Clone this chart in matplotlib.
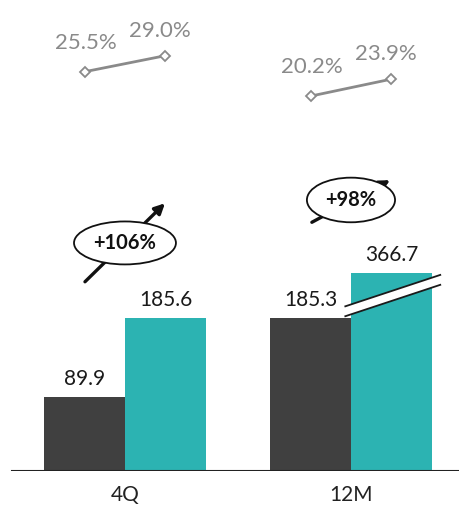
import matplotlib
matplotlib.use('Agg')
import matplotlib.pyplot as plt
from matplotlib.patches import Ellipse, Polygon

# data
categories = ['4Q', '12M']
prev_values = [89.9, 185.3]
curr_values = [185.6, 366.7]
prev_margin = [25.5, 20.2]
curr_margin = [29.0, 23.9]

DARK = '#404040'
TEAL = '#2cb3b2'
GREY = '#8a8a8a'
FONT = 'Lato'

# bars above this get drawn broken
cap = 240
width = 0.358

fig = plt.figure(figsize=(4.59, 5.08), dpi=100)
ax = fig.add_axes([0, 37 / 508, 1, 471 / 508])
ax.set_xlim(-0.553, 1.478)
ax.set_ylim(0, 570)
for s in ax.spines.values():
    s.set_visible(False)
ax.set_yticks([])
ax.set_xticks(range(len(categories)))
ax.set_xticklabels(categories, fontsize=15, family=FONT, color='#222222')
ax.tick_params(axis='x', length=0, pad=10)
ax.axhline(0, xmin=12 / 459, xmax=1, color='#222222', lw=1.5, zorder=5)

for i, cat in enumerate(categories):
    x0 = i - width / 2
    x1 = i + width / 2
    p, c = prev_values[i], curr_values[i]
    ax.bar(x0, p, width=width, color=DARK, zorder=2)
    hc = min(c, cap)
    ax.bar(x1, hc, width=width, color=TEAL, zorder=2)
    ax.text(x0, p + 9, f'{p:.1f}', ha='center', va='bottom', fontsize=15, family=FONT, color='#1a1a1a')
    ax.text(x1, hc + 9, f'{c:.1f}', ha='center', va='bottom', fontsize=15, family=FONT, color='#1a1a1a')

    if c > cap:
        # break marker across the truncated bar
        xa, xb = i - 0.025, i + 0.395
        ya, yb = p + 14, p + 52
        gap = 12
        poly = Polygon([(xa, ya), (xb, yb), (xb, yb - gap), (xa, ya - gap)],
                       closed=True, facecolor='white', edgecolor='none', zorder=3)
        ax.add_patch(poly)
        ax.plot([xa, xb], [ya, yb], color='#1a1a1a', lw=1.3, zorder=4)
        ax.plot([xa, xb], [ya - gap, yb - gap], color='#1a1a1a', lw=1.3, zorder=4)

# growth bubbles with arrows
growth = [round((c / p - 1) * 100) for p, c in zip(prev_values, curr_values)]
bubbles = [
    dict(cx=0.0, cy=276, w=0.451, h=52, tail=(-0.177, 229), head=(0.177, 324)),
    dict(cx=1.0, cy=328, w=0.39, h=54, tail=(0.827, 301), head=(1.173, 352)),
]
for g, b in zip(growth, bubbles):
    ax.annotate('', xy=b['head'], xytext=b['tail'],
                arrowprops=dict(arrowstyle='-|>', lw=2.4, color='#111111',
                                mutation_scale=15, shrinkA=0, shrinkB=0),
                zorder=6)
    ax.add_patch(Ellipse((b['cx'], b['cy']), b['w'], b['h'], facecolor='white',
                         edgecolor='#111111', lw=1.3, zorder=7))
    ax.text(b['cx'], b['cy'], f'+{g}%', ha='center', va='center', fontsize=14.5,
            fontweight='bold', family=FONT, color='#111111', zorder=8)

# margin lines
ax2 = ax.twinx()
ax2.set_ylim(-61.3, 41.1)
ax2.axis('off')
for i in range(len(categories)):
    xs = [i - width / 2, i + width / 2]
    ys = [prev_margin[i], curr_margin[i]]
    ax2.plot(xs, ys, color=GREY, lw=2, marker='D', markersize=5.5,
             markerfacecolor='white', markeredgecolor=GREY, markeredgewidth=1.3)
    ax2.annotate(f'{prev_margin[i]:.1f}%', (xs[0], ys[0]), xytext=(1, 21),
                 textcoords='offset points', ha='center', va='center',
                 fontsize=16, family=FONT, color=GREY)
    ax2.annotate(f'{curr_margin[i]:.1f}%', (xs[1], ys[1]), xytext=(-4, 18),
                 textcoords='offset points', ha='center', va='center',
                 fontsize=16, family=FONT, color=GREY)

fig.savefig('out.png', dpi=100)
